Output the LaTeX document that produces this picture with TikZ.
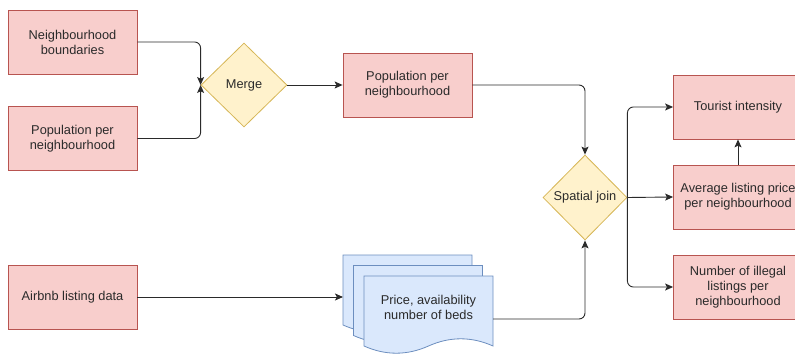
\documentclass[tikz,border=0pt]{standalone}
\usepackage{fontspec}
\setmainfont{Liberation Sans}
\usetikzlibrary{shapes.geometric,arrows.meta}
\definecolor{procfill}{HTML}{F8CECC}
\definecolor{procline}{HTML}{B85450}
\definecolor{decfill}{HTML}{FFF2CC}
\definecolor{decline}{HTML}{D6B656}
\definecolor{docfill}{HTML}{DAE8FC}
\definecolor{docline}{HTML}{6C8EBF}
\definecolor{ink}{HTML}{2A2A2A}
\begin{document}
\begin{tikzpicture}[x=1pt,y=-1pt,
  font=\fontsize{12.8}{15}\selectfont, text=ink,
  proc/.style={draw=procline, fill=procfill, line width=0.8pt,
    minimum width=129pt, minimum height=64pt, inner sep=0pt, align=center},
  dec/.style={diamond, draw=decline, fill=decfill, line width=0.8pt,
    inner sep=0pt, align=center},
  arr/.style={draw=ink, line width=0.9pt, rounded corners=6pt,
    -{Stealth[length=8pt,width=7pt,inset=1.8pt]}},
  sheet/.style={draw=docline, fill=docfill, line width=0.8pt}]

\useasboundingbox (0,0) rectangle (795,358);
\clip (0,0) rectangle (795,358);

% input data sets
\node[proc] (bnd)   at (72.5,42)    {Neighbourhood\\boundaries};
\node[proc] (popin) at (72.5,138.5) {Population per\\neighbourhood};
\node[proc] (air)   at (72.5,297)   {Airbnb listing data};

% processing steps
\node[dec, minimum width=86pt, minimum height=84pt] (merge) at (244,85) {Merge};
\node[proc] (popout) at (407.5,85) {Population per\\neighbourhood};
\node[dec, minimum width=84pt, minimum height=85pt] (sj) at (585,197.5) {Spatial join};

% outputs
\node[proc] (tour) at (738,107) {Tourist intensity};
\node[proc] (avg)  at (738,197) {Average listing price\\per neighbourhood};
\node[proc] (ill)  at (738,287) {Number of illegal\\listings per\\neighbourhood};

% stacked listing documents
\foreach \o in {0,10.5,21} {
  \draw[sheet, shift={(343+\o,255+\o)}]
    (0,0) -- (129,0) -- (129,70)
    .. controls (107.5,60.4) and (86,60.4) .. (64.5,70)
    .. controls (43,79.6) and (21.5,79.6) .. (0,70) -- cycle;
}
\coordinate (docin)  at (343,297);
\coordinate (docout) at (493,319);
\node[align=center, inner sep=0pt] (docs) at (428.5,307) {Price, availability\\number of beds};

% connectors
\draw[arr] (bnd.east) -| (merge.west);
\draw[arr] (popin.east) -| (merge.west);
\draw[arr] (merge.east) -- (popout.west);
\draw[arr] (popout.east) -| (sj.north);
\draw[arr] (air.east) -- (docin);
\draw[arr] (docout) -| (sj.south);
\draw[arr] (sj.east) |- (tour.west);
\draw[arr] (sj.east) -- (avg.west);
\draw[arr] (sj.east) |- (ill.west);
\draw[arr] (avg.north) -- (tour.south);
\end{tikzpicture}
\end{document}
